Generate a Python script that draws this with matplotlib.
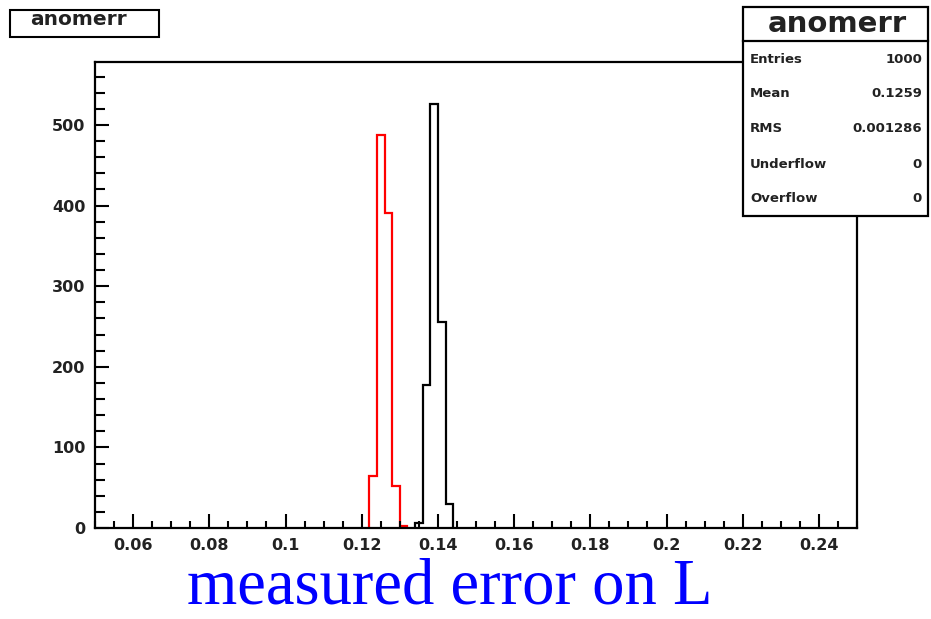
import numpy as np
import matplotlib
matplotlib.use("Agg")
import matplotlib.pyplot as plt
from matplotlib.patches import Rectangle
from matplotlib.lines import Line2D
from matplotlib.ticker import MultipleLocator, FuncFormatter

# ---------------- data ----------------
red_edges = [0.122, 0.124, 0.126, 0.128, 0.130, 0.132]
red_counts = [64, 487, 391, 52, 3]
black_edges = [0.134, 0.136, 0.138, 0.140, 0.142, 0.144]
black_counts = [6, 177, 526, 255, 30]

x_range = [0.05, 0.25]
y_range = [0, 578]
x_ticks = [0.06, 0.08, 0.1, 0.12, 0.14, 0.16, 0.18, 0.2, 0.22, 0.24]
y_ticks = [0, 100, 200, 300, 400, 500]

title_text = "anomerr"
stats_labels = ["Entries", "Mean", "RMS", "Underflow", "Overflow"]
stats_values = ["1000", "0.1259", "0.001286", "0", "0"]
xlabel_text = "measured error on L"

# ---------------- figure ----------------
W, H = 931, 619
fig = plt.figure(figsize=(W / 100, H / 100), dpi=100)
fig.patch.set_facecolor("white")

def fx(x):
    return x / W

def fy(y):
    return 1 - y / H

ax_l, ax_r, ax_t, ax_b = 95, 857, 62, 528
ax = fig.add_axes([fx(ax_l), fy(ax_b), (ax_r - ax_l) / W, (ax_b - ax_t) / H])

ax.stairs(red_counts, red_edges, color="#ff0000", linewidth=1.6)
ax.stairs(black_counts, black_edges, color="black", linewidth=1.6)

ax.set_xlim(*x_range)
ax.set_ylim(*y_range)

for s in ax.spines.values():
    s.set_linewidth(1.6)
    s.set_color("black")

ax.set_xticks(x_ticks)
ax.set_yticks(y_ticks)
ax.xaxis.set_minor_locator(MultipleLocator(0.005))
ax.yaxis.set_minor_locator(MultipleLocator(20))
ax.xaxis.set_major_formatter(FuncFormatter(lambda v, p: "%g" % round(v, 4)))

ax.tick_params(axis="both", which="both", direction="in", top=False, right=False,
               width=1.5, color="black")
ax.tick_params(axis="x", which="major", length=10, pad=7)
ax.tick_params(axis="x", which="minor", length=5)
ax.tick_params(axis="y", which="major", length=10, pad=7)
ax.tick_params(axis="y", which="minor", length=7)
for lab in ax.get_xticklabels() + ax.get_yticklabels():
    lab.set_fontfamily("DejaVu Sans")
    lab.set_fontweight("bold")
    lab.set_fontsize(11.5)
    lab.set_color("#222222")

# x label (blue serif)
fig.text(fx(450), fy(604), xlabel_text, color="#0000ff", fontsize=46.5,
         family="Liberation Serif", ha="center", va="baseline")

# ---------------- title box ----------------
fig.add_artist(Rectangle((fx(10), fy(37)), (159 - 10) / W, (37 - 10) / H,
                         transform=fig.transFigure, facecolor="white",
                         edgecolor="black", linewidth=1.5))
fig.text(fx(78), fy(25), title_text, fontsize=14.5, fontweight="bold",
         family="DejaVu Sans", ha="center", va="baseline", color="#222222")

# ---------------- stats box ----------------
sb_l, sb_r, sb_t, sb_b, sb_sep = 743, 928, 7, 216, 41
fig.add_artist(Rectangle((fx(sb_l), fy(sb_b)), (sb_r - sb_l) / W, (sb_b - sb_t) / H,
                         transform=fig.transFigure, facecolor="white",
                         edgecolor="black", linewidth=1.6, zorder=5))
fig.add_artist(Line2D([fx(sb_l), fx(sb_r)], [fy(sb_sep), fy(sb_sep)],
                      transform=fig.transFigure, color="black", linewidth=1.6, zorder=6))
fig.text(fx(837), fy(32), title_text, fontsize=21, fontweight="bold",
         family="DejaVu Sans", ha="center", va="baseline", color="#222222", zorder=7)
row_baselines = [63, 97, 132, 168, 202]
for lab, val, yb in zip(stats_labels, stats_values, row_baselines):
    fig.text(fx(750), fy(yb), lab, fontsize=9.5, fontweight="bold",
             family="DejaVu Sans", ha="left", va="baseline", color="#222222", zorder=7)
    fig.text(fx(922), fy(yb), val, fontsize=9.5, fontweight="bold",
             family="DejaVu Sans", ha="right", va="baseline", color="#222222", zorder=7)

fig.savefig("out.png", dpi=100, facecolor="white")
